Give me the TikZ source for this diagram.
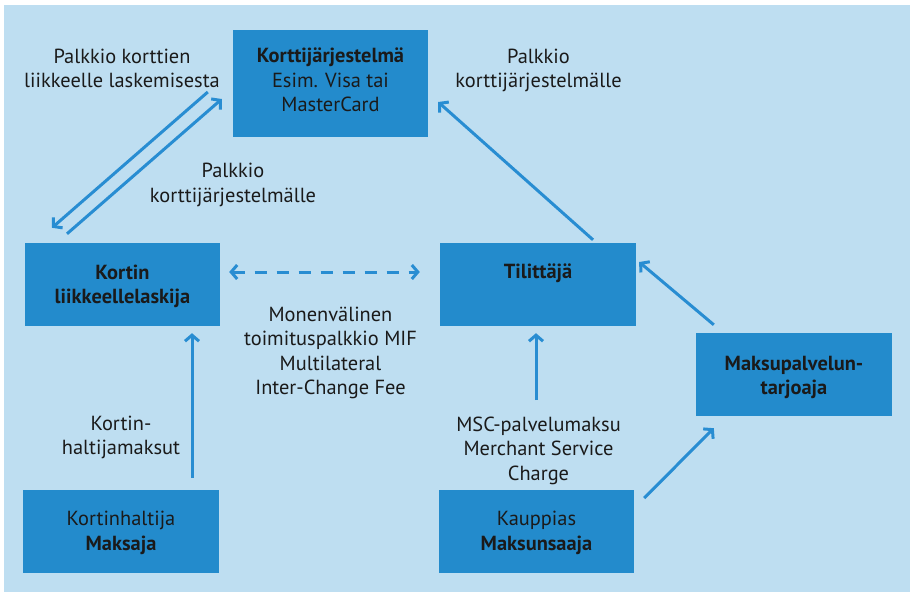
\documentclass[tikz,border=0pt]{standalone}
\usepackage{fontspec}
\setmainfont{PT Sans}
\usetikzlibrary{arrows.meta}
\definecolor{bgblue}{RGB}{190,222,241}
\definecolor{boxblue}{RGB}{35,139,204}
\definecolor{lineblue}{RGB}{40,141,210}
\definecolor{ink}{RGB}{26,26,26}
\tikzset{
  box/.style={fill=boxblue, draw=none, minimum width=196pt, minimum height=83pt,
    inner sep=0pt},
  lbl/.style={align=center, inner sep=0pt, text=ink, font=\fontsize{20.4}{24.5}\selectfont},
  arr/.style={draw=lineblue, line width=3pt,
    -{Straight Barb[length=6pt,width=14pt,line width=3pt]}},
  dasharr/.style={draw=lineblue, line width=3pt, dash pattern=on 12pt off 10pt,
    {Straight Barb[length=6pt,width=14pt,line width=3pt]}-{Straight Barb[length=6pt,width=14pt,line width=3pt]}}
}
\begin{document}
\begin{tikzpicture}[x=1pt,y=-1pt]
  \useasboundingbox (0,0) rectangle (910,592);
  \fill[white] (0,0) rectangle (910,592);
  \fill[bgblue] (4,5) rectangle (910,592);

  % boxes, each with its text as a centred label
  \node[box, minimum width=195pt, minimum height=107pt,
    label={[lbl,yshift=3.5pt]center:{\textbf{Korttijärjestelmä}\\Esim. Visa tai\\MasterCard}}]
    (ks) at (330.5,83.5) {};
  \node[box, minimum width=195pt,
    label={[lbl,yshift=-2pt]center:{\textbf{Kortin}\\\textbf{liikkeellelaskija}}}]
    (kl) at (122.5,284.5) {};
  \node[box, label={[lbl,yshift=11.5pt]center:{\textbf{Tilittäjä}}}]
    (til) at (538,284.5) {};
  \node[box, label={[lbl,yshift=-3pt]center:{\textbf{Maksupalvelun-}\\\textbf{tarjoaja}}}]
    (mp) at (794,374.5) {};
  \node[box, label={[lbl,yshift=-1.5pt]center:{Kortinhaltija\\\textbf{Maksaja}}}]
    (kh) at (121,531.5) {};
  \node[box, minimum width=195pt, label={[lbl,yshift=-1.5pt]center:{Kauppias\\\textbf{Maksunsaaja}}}]
    (ka) at (536.5,531.5) {};

  % fee labels
  \node[lbl] at (122,68.5) {Palkkio korttien\\liikkeelle laskemisesta};
  \node[lbl] at (233,185) {Palkkio\\korttijärjestelmälle};
  \node[lbl] at (538.5,70.5) {Palkkio\\korttijärjestelmälle};
  \node[lbl] at (330.5,353) {Monenvälinen\\toimituspalkkio MIF\\Multilateral\\Inter-Change Fee};
  \node[lbl] at (121,437.5) {Kortin-\\haltijamaksut};
  \node[lbl] at (538.5,450.5) {MSC-palvelumaksu\\Merchant Service\\Charge};

  % free end of the MSC arrow
  \coordinate (msc) at ([xshift=-2pt,yshift=-74pt]til.south);

  % connectors
  \draw[arr] ([xshift=-25pt,yshift=-8.5pt]ks.west) -- ([xshift=-70.5pt,yshift=15pt]kl.north);
  \draw[arr] ([xshift=-55.5pt,yshift=9pt]kl.north) -- ([xshift=-11pt,yshift=-15.5pt]ks.west);
  \draw[arr] ([xshift=55pt,yshift=3pt]til.north) -- ([xshift=10pt,yshift=-18.5pt]ks.east);
  \draw[dasharr] ([xshift=9pt,yshift=12.5pt]kl.east) -- ([xshift=-20pt,yshift=12.5pt]til.west);
  \draw[arr] ([xshift=71pt,yshift=12pt]kh.north) -- ([xshift=69.5pt,yshift=-7pt]kl.south);
  \draw[arr] (msc) -- ([xshift=-2pt,yshift=-7pt]til.south);
  \draw[arr] ([xshift=10pt,yshift=33.5pt]ka.east) -- ([xshift=18pt,yshift=-12pt]mp.south west);
  \draw[arr] ([xshift=18pt,yshift=8pt]mp.north west) -- ([xshift=3pt,yshift=22.5pt]til.east);
\end{tikzpicture}
\end{document}
